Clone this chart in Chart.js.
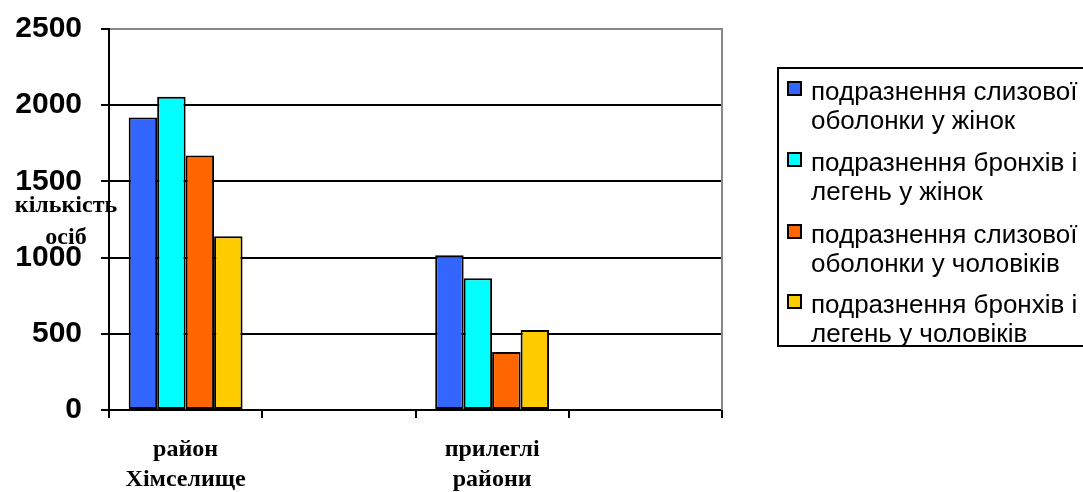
<!DOCTYPE html>
<html>
<head>
<meta charset="utf-8">
<script src="https://cdn.jsdelivr.net/npm/chart.js@4.4.1/dist/chart.umd.min.js"></script>
<style>
  html, body { margin: 0; padding: 0; background: #fff; overflow: hidden; }
  #wrap { position: relative; width: 1083px; height: 492px; }
  canvas { position: absolute; left: 0; top: 0; }
  #legend {
    position: absolute; left: 777px; top: 67px; width: 340px; height: 280px;
    border: 2px solid #000; background: #fff; box-sizing: border-box;
    font-family: "Liberation Sans", Arial, sans-serif; font-size: 26px; color: #000;
  }
  .item { position: absolute; left: 0; }
  .sw { position: absolute; left: 8px; width: 11px; height: 11px; border: 2px solid #000; }
  .txt { position: absolute; left: 32px; line-height: 29px; white-space: nowrap; }
</style>
</head>
<body>
<div id="wrap">
  <canvas id="c" width="1083" height="492"></canvas>
  <div id="legend"></div>
</div>
<script>
// ---- data ----
const categories = [["район", "Хімселище"], "", ["прилеглі", "райони"], ""];
const seriesNames = [
  ["подразнення слизової", "оболонки у жінок"],
  ["подразнення бронхів і", "легень у жінок"],
  ["подразнення слизової", "оболонки у чоловіків"],
  ["подразнення бронхів і", "легень у чоловіків"]
];
const womenMucosa = [1920, null, 1015, null];
const womenBronchi = [2055, null, 865, null];
const menMucosa = [1670, null, 380, null];
const menBronchi = [1140, null, 525, null];
const seriesColors = ["#3366FF", "#00FFFF", "#FF6600", "#FFCC00"];
const yTicks = { min: 0, max: 2500, step: 500 };
const yTitle = ["кількість", "осіб"];

const seriesValues = [womenMucosa, womenBronchi, menMucosa, menBronchi];

const datasets = seriesValues.map((vals, i) => ({
  label: seriesNames[i].join(" "),
  data: vals,
  backgroundColor: seriesColors[i],
  borderColor: "#000",
  borderWidth: 2,
  borderSkipped: false,
  categoryPercentage: 0.743,
  barPercentage: 1.0
}));

const plotFrame = {
  id: "plotFrame",
  beforeDatasetsDraw(chart) {
    const a = chart.chartArea, ctx = chart.ctx;
    ctx.save();
    ctx.strokeStyle = "#888";
    ctx.lineWidth = 2;
    ctx.beginPath();
    ctx.moveTo(a.right, a.top - 1);
    ctx.lineTo(a.right, a.bottom);
    ctx.stroke();
    ctx.restore();
  },
  afterDraw(chart) {
    const a = chart.chartArea, ctx = chart.ctx;
    ctx.save();
    ctx.fillStyle = "#000";
    ctx.font = "bold 24px 'Liberation Serif', 'Times New Roman', serif";
    ctx.textAlign = "center";
    ctx.textBaseline = "alphabetic";
    const cx = a.left - 43;
    const y0 = chart.scales.y.getPixelForValue(1300);
    ctx.fillText(yTitle[0], cx, y0);
    ctx.fillText(yTitle[1], cx, y0 + 32);
    ctx.restore();
  }
};

const chart = new Chart(document.getElementById("c"), {
  type: "bar",
  data: { labels: categories, datasets },
  options: {
    responsive: false,
    animation: false,
    layout: { padding: { top: 29, right: 361, left: 0, bottom: 0 } },
    plugins: { legend: { display: false }, tooltip: { enabled: false } },
    scales: {
      x: {
        offset: true,
        afterFit(s) { s.height = 82; s.paddingLeft = 0; s.paddingRight = 0; },
        grid: {
          offset: true,
          drawOnChartArea: false,
          drawTicks: true,
          tickLength: 8,
          color: "#000",
          lineWidth: 2
        },
        border: { color: "#000", width: 2 },
        ticks: {
          color: "#000",
          padding: 17,
          maxRotation: 0,
          autoSkip: false,
          font: { family: "'Liberation Serif', 'Times New Roman', serif", size: 24, weight: "bold", lineHeight: 1.25 }
        }
      },
      y: {
        min: yTicks.min,
        max: yTicks.max,
        afterFit(s) { s.width = 109; s.paddingTop = 0; s.paddingBottom = 0; },
        grid: {
          color: (c) => (c.tick && c.tick.value === yTicks.max ? "#888" : "#000"),
          tickColor: "#000",
          lineWidth: 2,
          tickLength: 8
        },
        border: { color: "#000", width: 2 },
        ticks: {
          stepSize: yTicks.step,
          color: "#000",
          padding: 19,
          callback: (v) => String(v),
          font: { family: "'Liberation Sans', Arial, sans-serif", size: 30, weight: "bold" }
        }
      }
    }
  },
  plugins: [plotFrame]
});

// HTML legend built from datasets
const legend = document.getElementById("legend");
const itemTops = [8, 79, 151, 221];
chart.data.datasets.forEach((ds, i) => {
  const it = document.createElement("div");
  it.className = "item";
  it.style.top = itemTops[i] + "px";
  const sw = document.createElement("div");
  sw.className = "sw";
  sw.style.background = ds.backgroundColor;
  sw.style.top = "4px";
  const tx = document.createElement("div");
  tx.className = "txt";
  tx.innerHTML = seriesNames[i].join("<br>");
  it.appendChild(sw);
  it.appendChild(tx);
  legend.appendChild(it);
});
</script>
</body>
</html>
